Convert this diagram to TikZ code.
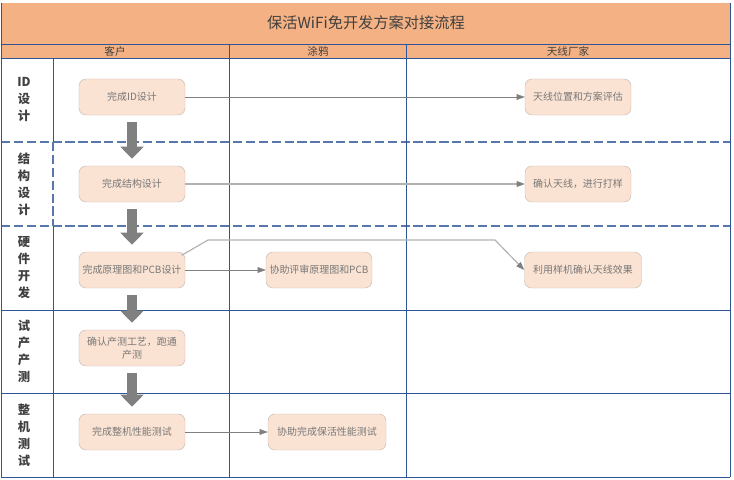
\documentclass[tikz,border=0pt]{standalone}
\usepackage{fontspec}
\setmainfont{Noto Sans CJK SC}
\usetikzlibrary{arrows.meta}
\definecolor{titleorange}{HTML}{F4B183}
\definecolor{boxfill}{HTML}{FBE3D3}
\definecolor{boxline}{HTML}{C4BAB3}
\definecolor{laneblue}{HTML}{2F5597}
\definecolor{textgray}{HTML}{777777}
\definecolor{headgray}{HTML}{404040}
\begin{document}
\begin{tikzpicture}[x=0.03cm,y=-0.03cm,
  task/.style={draw=boxline,fill=boxfill,rounded corners=6pt,minimum width=3.18cm,minimum height=1.08cm,
    align=center,text=textgray,font=\fontsize{8.5}{11}\selectfont,inner sep=2pt},
  flow/.style={draw=gray,thin,-{Triangle[length=7pt,width=5pt]}},
  flowlight/.style={draw=gray!60,line width=1pt,-{Triangle[length=7pt,width=5pt,color=gray]}},
  down/.style={draw=gray,line width=8.5pt,-{Triangle[length=0.36cm,width=0.68cm]},shorten <=6pt,shorten >=6pt},
  lane/.style={draw=laneblue,line width=0.8pt},
  lanedash/.style={draw=laneblue!80,line width=0.9pt,dash pattern=on 8pt off 3pt},
  lanelabel/.style={font=\bfseries\fontsize{10.5}{14.5}\selectfont,text=headgray,align=center},
  colhead/.style={font=\fontsize{9}{10}\selectfont,text=headgray}]
  \useasboundingbox (0,0) rectangle (734,480);
  % title and column heads
  \fill[titleorange] (1,3) rectangle (730,58);
  \node[font=\fontsize{13}{15}\selectfont,text=headgray] (title) at (366,23) {保活WiFi免开发方案对接流程};
  \node[colhead] (hc) at (115,51) {客户};
  \node[colhead] (ht) at (318,51) {涂鸦};
  \node[colhead] (ha) at (568,51) {天线厂家};
  % lanes
  \draw[lane] (1,44) -- (730,44);
  \draw[lane] (1,58) -- (730,58);
  \draw[lanedash] (1,142) -- (730,142);
  \draw[lanedash] (1,226) -- (730,226);
  \draw[lane] (1,310) -- (730,310);
  \draw[lane] (1,393) -- (730,393);
  \draw[lane] (1,477) -- (730,477);
  \draw[lane] (1,3) -- (1,477);
  \draw[lane] (730,3) -- (730,477);
  \draw[lane] (229,44) -- (229,477);
  \draw[lane] (406,44) -- (406,477);
  \draw[lane] (53,58) -- (53,142);
  \draw[lanedash] (53,142) -- (53,226);
  \draw[lane] (53,226) -- (53,477);
  \node[lanelabel] (l1) at (24,100) {ID\\设\\计};
  \node[lanelabel] (l2) at (24,184) {结\\构\\设\\计};
  \node[lanelabel] (l3) at (24,268) {硬\\件\\开\\发};
  \node[lanelabel] (l4) at (24,351) {试\\产\\产\\测};
  \node[lanelabel] (l5) at (24,435) {整\\机\\测\\试};
  % tasks
  \node[task] (b1) at (132,97) {完成ID设计};
  \node[task] (b2) at (132,184) {完成结构设计};
  \node[task] (b3) at (132,270) {完成原理图和PCB设计};
  \node[task] (b4) at (132,348) {确认产测工艺，跑通\\产测};
  \node[task] (b5) at (132,432) {完成整机性能测试};
  \node[task] (c3) at (319,270) {协助评审原理图和PCB};
  \node[task,minimum width=3.54cm] (c5) at (327,432) {协助完成保活性能测试};
  \node[task] (d1) at (578,97) {天线位置和方案评估};
  \node[task] (d2) at (578,184) {确认天线，进行打样};
  \node[task,minimum width=3.51cm] (d3) at (583,270) {利用样机确认天线效果};
  % flow
  \draw[down] (b1) -- (b2);
  \draw[down] (b2) -- (b3);
  \draw[down] (b3) -- (b4);
  \draw[down] (b4) -- (b5);
  \draw[flow] (b1) -- (d1);
  \draw[flowlight] (b2) -- (d2);
  \draw[flow] (b3) -- (c3);
  \draw[flow] (b5) -- (c5);
  \draw[flowlight] ([xshift=-3pt,yshift=-3pt]b3.north east) -- (208,240) -- (495,240) -- (d3.west);
\end{tikzpicture}
\end{document}
